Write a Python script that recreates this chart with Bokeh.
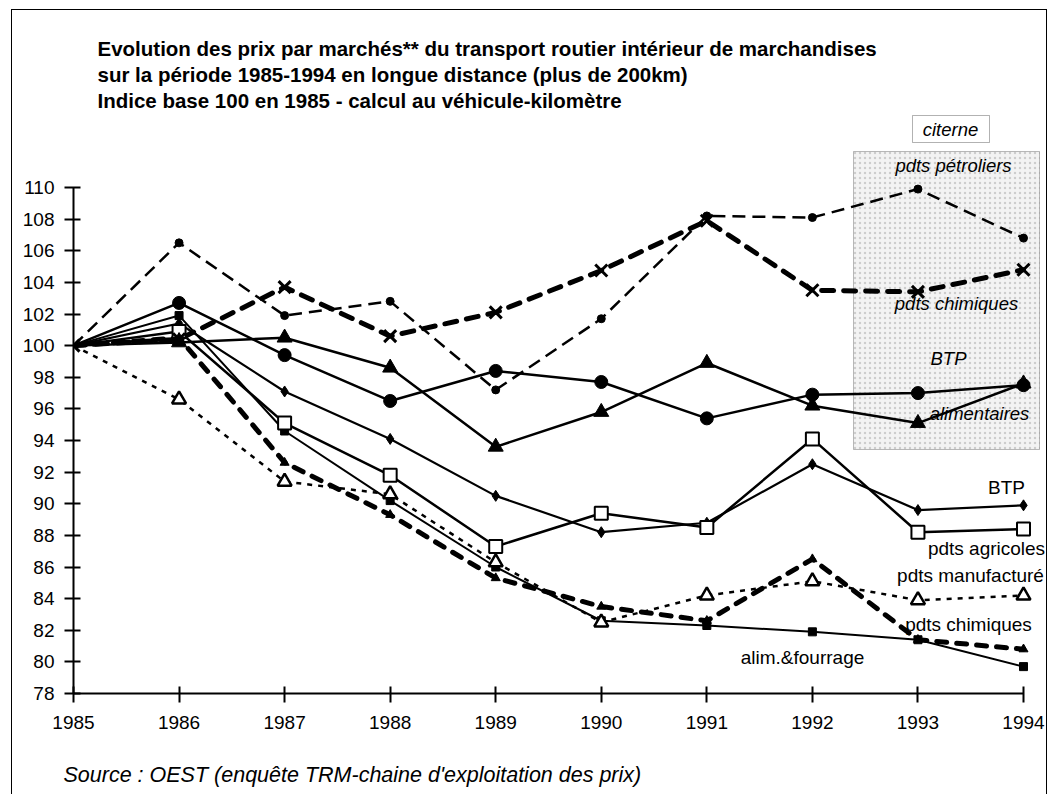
from bokeh.plotting import figure
from bokeh.models import Range1d, FixedTicker, Label, BoxAnnotation, ColumnDataSource, Title
from bokeh.embed import file_html
from bokeh.resources import INLINE

# ---------------- data ----------------
years = [1985, 1986, 1987, 1988, 1989, 1990, 1991, 1992, 1993, 1994]
y_ticks = [78, 80, 82, 84, 86, 88, 90, 92, 94, 96, 98, 100, 102, 104, 106, 108, 110]

citerne_petroliers = [100, 106.5, 101.9, 102.8, 97.2, 101.7, 108.2, 108.1, 109.9, 106.8]
citerne_chimiques = [100, 100.4, 103.7, 100.6, 102.1, 104.75, 107.9, 103.5, 103.4, 104.8]
citerne_btp = [100, 102.7, 99.4, 96.5, 98.4, 97.7, 95.4, 96.9, 97.0, 97.5]
citerne_alimentaires = [100, 100.2, 100.5, 98.6, 93.6, 95.8, 98.9, 96.2, 95.1, 97.6]
btp = [100, 101.4, 97.1, 94.1, 90.5, 88.2, 88.8, 92.5, 89.6, 89.9]
pdts_agricoles = [100, 100.9, 95.1, 91.8, 87.3, 89.4, 88.5, 94.1, 88.2, 88.4]
pdts_manufactures = [100, 96.6, 91.4, 90.6, 86.3, 82.5, 84.2, 85.1, 83.9, 84.2]
pdts_chimiques = [100, 100.5, 92.6, 89.3, 85.3, 83.5, 82.6, 86.5, 81.4, 80.8]
alim_fourrage = [100, 101.9, 94.6, 90.2, 86.0, 82.6, 82.3, 81.9, 81.4, 79.7]

title_lines = [
    "Evolution des prix par marchés** du transport routier intérieur de marchandises",
    "sur la période 1985-1994 en longue distance (plus de 200km)",
    "Indice base 100 en 1985 - calcul au véhicule-kilomètre",
]
source_text = "Source : OEST (enquête TRM-chaine d'exploitation des prix)"

FONT = "Liberation Sans"

# page-pixel -> data helpers (used only to place annotations)
def dx(px):
    return 1985 + (px - 73) * 9 / 950

def dy(py):
    return 78 + (693 - py) * 32 / 506

# canvas placed at page (12, 10) by CSS margin + 1px border
OX, OY = 12, 10
W, H = 1036, 785
FRAME_L = 73 - OX          # 1985 on the left frame edge
FRAME_B = 693 - OY         # 78 on the bottom frame edge

p = figure(width=W, height=H,
           x_range=Range1d(1985, dx(OX + W)), y_range=Range1d(78, dy(OY)),
           output_backend="svg", toolbar_location=None,
           min_border_left=FRAME_L, min_border_right=0, min_border_top=0,
           min_border_bottom=H - FRAME_B)
p.outline_line_color = None
p.grid.visible = False
p.background_fill_color = "white"
p.border_fill_color = "white"
p.styles = {"margin-left": "11px", "margin-top": "9px",
            "border-left": "1px solid black", "border-top": "1px solid black",
            "border-right": "1px solid black"}

# axes
p.xaxis.bounds = (1985, 1994)
p.yaxis.bounds = (78, 110)
p.xaxis.ticker = FixedTicker(ticks=years)
p.yaxis.ticker = FixedTicker(ticks=y_ticks)
for ax in (p.xaxis[0], p.yaxis[0]):
    ax.axis_line_width = 2
    ax.axis_line_color = "black"
    ax.major_tick_line_width = 2
    ax.major_tick_line_color = "black"
    ax.major_tick_in = 7
    ax.major_tick_out = 9
    ax.minor_tick_line_color = None
    ax.major_label_text_font = FONT
    ax.major_label_text_font_size = "19px"
    ax.major_label_text_color = "black"
p.xaxis.major_label_standoff = 13
p.yaxis.major_label_standoff = 10

# source line under the axis (leading empty line pushes it to the bottom edge)
p.add_layout(Title(text="\n" + source_text, text_font=FONT, text_font_size="21.5px",
                   text_font_style="italic", text_color="black", align="left",
                   vertical_align="bottom", offset=63 - 73, standoff=11), "below")

# stippled "citerne" panel (underlay)
p.add_layout(BoxAnnotation(left=dx(853), right=dx(1039), top=dy(151), bottom=dy(449),
                           fill_color="#f3f3f3", fill_alpha=1.0,
                           hatch_pattern="dot", hatch_color="#a0a0a0", hatch_alpha=0.45,
                           hatch_scale=5, hatch_weight=1,
                           line_color="#222222", line_width=1, level="underlay"))

# series
series = {
    "alf": alim_fourrage, "btp": btp, "agr": pdts_agricoles, "man": pdts_manufactures,
    "chi": pdts_chimiques, "btc": citerne_btp, "alc": citerne_alimentaires,
    "pet": citerne_petroliers, "chc": citerne_chimiques,
}
src = ColumnDataSource(dict(x=years, **series))
# markers are shown from 1986 on, except the crosses which also mark 1985
src_m = ColumnDataSource(dict(x=years[1:], **{k: v[1:] for k, v in series.items()}))

lines = [
    ("alf", dict(line_width=2.0)),
    ("btp", dict(line_width=2.2)),
    ("agr", dict(line_width=2.5)),
    ("man", dict(line_width=2.5, line_dash="5 6")),
    ("chi", dict(line_width=5, line_dash="10 10", line_cap="round")),
    ("btc", dict(line_width=2.5)),
    ("alc", dict(line_width=2.5)),
    ("pet", dict(line_width=2.5, line_dash="13 7")),
    ("chc", dict(line_width=5, line_dash="12 10", line_cap="round")),
]
for key, kw in lines:
    p.line("x", key, source=src, line_color="black", **kw)

markers = [
    ("alf", src_m, dict(marker="square", size=8, fill_color="black", line_color="black")),
    ("btp", src_m, dict(marker="diamond", size=11, fill_color="black", line_color="black")),
    ("agr", src_m, dict(marker="square", size=13, fill_color="white", line_color="black", line_width=2)),
    ("man", src_m, dict(marker="triangle", size=14, fill_color="white", line_color="black", line_width=2.5)),
    ("chi", src_m, dict(marker="triangle", size=9, fill_color="black", line_color="black")),
    ("btc", src_m, dict(marker="circle", size=13, fill_color="black", line_color="black")),
    ("alc", src_m, dict(marker="triangle", size=15, fill_color="black", line_color="black")),
    ("pet", src_m, dict(marker="circle", size=8, fill_color="black", line_color="black")),
    ("chc", src, dict(marker="x", size=17, line_color="black", line_width=3)),
]
for key, source, kw in markers:
    p.scatter("x", key, source=source, **kw)

# titles
for text, base in zip(title_lines, [48, 74, 100]):
    p.add_layout(Label(x=dx(97), y=dy(base), text=text, text_font=FONT,
                       text_font_size="20.5px", text_font_style="bold",
                       text_baseline="alphabetic", text_align="left", text_color="black"))

# citerne header box
p.add_layout(BoxAnnotation(left=dx(912), right=dx(989), top=dy(115), bottom=dy(142),
                           fill_color="white", line_color="black", line_width=1))
box_labels = [("citerne", 950, 129), ("pdts pétroliers", 953, 165),
              ("pdts chimiques", 956, 303), ("BTP", 948, 358), ("alimentaires", 979, 413)]
for text, px, py in box_labels:
    p.add_layout(Label(x=dx(px), y=dy(py), text=text, text_font=FONT,
                       text_font_size="18.5px", text_font_style="italic",
                       text_align="center", text_baseline="middle", text_color="black"))

out_labels = [("BTP", 1006, 487), ("pdts agricoles", 986, 548),
              ("pdts manufacturé", 970, 575), ("pdts chimiques", 968, 624),
              ("alim.&fourrage", 802, 657)]
for text, px, py in out_labels:
    p.add_layout(Label(x=dx(px), y=dy(py), text=text, text_font=FONT,
                       text_font_size="19px", text_align="center",
                       text_baseline="middle", text_color="black"))

open("out.html", "w").write(file_html(p, INLINE))
